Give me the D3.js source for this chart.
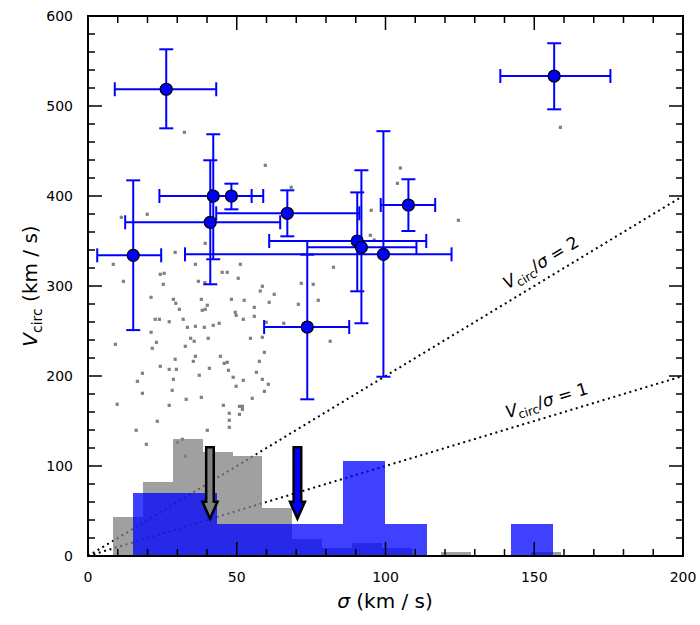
<!DOCTYPE html>
<html>
<head>
<meta charset="utf-8">
<script src="https://cdn.jsdelivr.net/npm/d3@7"></script>
<style>
  body { margin: 0; background: #fff; }
  text { font-family: "DejaVu Sans", sans-serif; }
</style>
</head>
<body>
<div id="chart"></div>
<script>
// background sample: sigma, V_circ (km/s)
const bgSigma = [11.9,25.3,37.1,39.3,58.6,57.9,62.6,21.2,28.7,29.5,38.1,40.1,48.2,52.5,60.9,70.7,30.7,39.4,38.4,49.5,
  49.8,55.9,55.9,22.6,24.0,27.3,32.0,52.2,44.1,42.1,33.4,36.1,39.1,59.9,65.8,21.2,34.5,35.7,40.4,54.6,
  58.6,9.2,23.0,21.6,32.7,59.3,36.1,29.3,35.4,44.5,45.8,46.8,57.6,24.3,27.3,29.7,40.8,47.2,56.6,18.3,
  37.4,48.8,58.6,16.6,28.7,52.2,60.6,49.8,28.3,59.3,18.3,33.0,38.1,55.2,9.8,27.3,45.5,50.9,51.9,51.9,
  47.5,50.9,47.5,23.3,47.5,16.2,40.1,19.6,30.0,31.7,32.7,32.4,59.6,68.3,11.2,19.9,39.4,29.3,8.5,36.1,
  45.1,46.8,51.2,24.3,25.6,50.5,71.7,75.7,105.0,104.0,95.2,124.5,94.9,96.2,82.5,77.4,81.4,158.8];
const bgVc = [305.2,301.9,305.2,303.7,299.7,294.4,290.8,287.4,285.2,280.8,285.2,278.6,285.2,284.1,281.9,279.7,274.1,274.1,273.0,270.8,
  267.4,276.3,266.3,263.0,263.0,260.3,263.0,263.0,258.6,256.3,254.1,255.2,254.1,259.7,258.6,248.6,241.9,238.6,241.9,241.9,
  243.0,235.2,237.4,230.8,233.0,226.3,221.9,218.6,216.3,221.9,214.1,215.2,216.3,210.8,207.4,207.4,208.6,206.3,204.1,203.0,
  200.8,198.6,196.3,194.1,196.3,195.2,190.8,188.6,184.1,183.0,180.8,174.1,176.3,175.2,168.6,167.4,167.4,166.3,166.3,163.0,
  158.6,157.4,150.8,149.7,143.0,139.7,139.7,124.1,126.3,129.7,110.8,470.8,434.1,409.7,376.3,379.7,347.4,337.4,324.1,324.1,
  315.2,315.2,324.1,313.0,314.1,308.6,303.0,301.9,431.1,414.1,384.1,373.0,356.3,351.1,320.8,284.1,238.6,476.3];

// sigma histograms (scaled heights)
const grayEdges = [8.4,18.5,28.5,38.5,48.6,58.6,68.6,78.7,88.7,98.7,108.8,118.8,128.8,138.9,148.9,158.9];
const grayHeights = [43.3,82,130,115.5,111.5,53,19,9,14.4,9,0,4.4,0,0,4.4];
const blueEdges = [15.1,29.2,43.4,57.5,71.6,85.7,99.8,114.0,128.1,142.2,156.3];
const blueHeights = [70,70,35.3,35.3,35.3,105.5,35.3,0,0,35.3];

// measured objects with errors
const sig   = [26.3,42.1,48.2,41.1,15.2,67.0,90.5,91.9,99.3,107.7,73.7,156.7];
const sigLo = [9.0,24.0,41.4,12.5,3.1,43.1,60.9,73.7,32.6,98.4,59.2,138.6];
const sigHi = [43.1,58.9,55.0,64.6,24.6,91.2,113.7,110.4,122.2,116.7,87.8,175.6];
const vc    = [518.6,400,400,370.8,334.1,380.8,350,343,335.2,390,254.4,533.3];
const vcLo  = [475.2,329.7,385.2,301.9,251,355.2,294.1,258.6,199.2,361.1,174.1,496.3];
const vcHi  = [563,468.6,413.7,439.7,417.4,406.3,404,428.6,472,418.6,334.8,569.7];

// upper-limit arrows
const arrowSigma = [41.0, 70.4];
const arrowFill = ['#808080', '#0000ff'];
const arrowTop = 120.8, arrowTip = 41.4;

// V_circ / sigma ratio lines
const ratios = [1, 2];

const xTicks = [0, 50, 100, 150, 200];
const yTicks = [0, 100, 200, 300, 400, 500, 600];

const W = 700, H = 625;
const x = d3.scaleLinear().domain([0, 200]).range([88, 683]);
const y = d3.scaleLinear().domain([0, 600]).range([556, 16]);

const svg = d3.select('#chart').append('svg')
  .attr('width', W).attr('height', H);

// ratio lines (under the histograms)
const g = svg.append('g');
g.selectAll('line.ratio')
  .data(ratios)
  .enter()
  .append('line')
  .attr('x1', x(0)).attr('y1', y(0))
  .attr('x2', x(200)).attr('y2', d => y(200 * d))
  .attr('stroke', '#000')
  .attr('stroke-width', 2)
  .attr('stroke-dasharray', '2,3.6');

// background points
g.selectAll('rect.pt')
  .data(bgSigma.map((s, i) => [s, bgVc[i]]))
  .enter()
  .append('rect')
  .attr('x', d => x(d[0]) - 1.6)
  .attr('y', d => y(d[1]) - 1.6)
  .attr('width', 3.2).attr('height', 3.2)
  .attr('fill', '#808080');

// gray histogram
g.selectAll('rect.gh')
  .data(grayHeights)
  .enter()
  .append('rect')
  .attr('x', (d, i) => x(grayEdges[i]))
  .attr('width', (d, i) => x(grayEdges[i + 1]) - x(grayEdges[i]))
  .attr('y', d => y(d))
  .attr('height', d => y(0) - y(d))
  .attr('fill', '#808080')
  .attr('fill-opacity', 0.75)
  .attr('shape-rendering', 'crispEdges');

// blue histogram
g.selectAll('rect.bh')
  .data(blueHeights)
  .enter()
  .append('rect')
  .attr('x', (d, i) => x(blueEdges[i]))
  .attr('width', (d, i) => x(blueEdges[i + 1]) - x(blueEdges[i]))
  .attr('y', d => y(d))
  .attr('height', d => y(0) - y(d))
  .attr('fill', '#0000ff')
  .attr('fill-opacity', 0.75)
  .attr('shape-rendering', 'crispEdges');

// arrows
const arrowPath = s => {
  const cx = x(s), t = y(arrowTop), tip = y(arrowTip);
  const hw = 3.8, hh = 7.5, hl = 17;
  return `M${cx - hw},${t} L${cx + hw},${t} L${cx + hw},${tip - hl} L${cx + hh},${tip - hl}
    L${cx},${tip} L${cx - hh},${tip - hl} L${cx - hw},${tip - hl} Z`;
};
g.selectAll('path.arrow')
  .data(arrowSigma)
  .enter()
  .append('path')
  .attr('d', d => arrowPath(d))
  .attr('fill', (d, i) => arrowFill[i])
  .attr('stroke', '#000')
  .attr('stroke-width', 2.5)
  .attr('stroke-linejoin', 'miter');

// error bars
const eb = g.append('g').attr('stroke', '#0000ff').attr('stroke-width', 2).attr('fill', 'none');
const cap = 7;
sig.forEach((s, i) => {
  eb.append('line').attr('x1', x(sigLo[i])).attr('x2', x(sigHi[i])).attr('y1', y(vc[i])).attr('y2', y(vc[i]));
  eb.append('line').attr('x1', x(s)).attr('x2', x(s)).attr('y1', y(vcLo[i])).attr('y2', y(vcHi[i]));
  [sigLo[i], sigHi[i]].forEach(v => eb.append('line')
    .attr('x1', x(v)).attr('x2', x(v)).attr('y1', y(vc[i]) - cap).attr('y2', y(vc[i]) + cap));
  [vcLo[i], vcHi[i]].forEach(v => eb.append('line')
    .attr('x1', x(s) - cap).attr('x2', x(s) + cap).attr('y1', y(v)).attr('y2', y(v)));
});
g.selectAll('circle.obj')
  .data(sig)
  .enter()
  .append('circle')
  .attr('cx', d => x(d))
  .attr('cy', (d, i) => y(vc[i]))
  .attr('r', 6)
  .attr('fill', '#0000ff')
  .attr('stroke', '#000')
  .attr('stroke-width', 1.2);

// ratio labels
const labelPos = [{ r: 1, s: 141, v: 153, a: -16.8 }, { r: 2, s: 141, v: 296, a: -31.2 }];
labelPos.forEach(p => {
  const t = svg.append('text')
    .attr('transform', `translate(${x(p.s)},${y(p.v)}) rotate(${p.a})`)
    .attr('font-size', 17);
  t.append('tspan').attr('font-style', 'italic').text('V');
  t.append('tspan').attr('font-size', 12).attr('dy', 4).text('circ');
  t.append('tspan').attr('dy', -4).text('/');
  t.append('tspan').attr('font-style', 'italic').text('σ');
  t.append('tspan').text(' = ' + p.r);
});

// axes frame and ticks
const frame = svg.append('g');
frame.append('rect')
  .attr('x', x(0)).attr('y', y(600))
  .attr('width', x(200) - x(0)).attr('height', y(0) - y(600))
  .attr('fill', 'none').attr('stroke', '#000').attr('stroke-width', 2);

const xMinor = d3.range(0, 201, 10);
const yMinor = d3.range(0, 601, 20);
const tk = frame.append('g').attr('stroke', '#000').attr('stroke-width', 1.5);
xMinor.forEach(v => {
  const len = v % 50 === 0 ? 14 : 7;
  tk.append('line').attr('x1', x(v)).attr('x2', x(v)).attr('y1', y(0)).attr('y2', y(0) - len);
  tk.append('line').attr('x1', x(v)).attr('x2', x(v)).attr('y1', y(600)).attr('y2', y(600) + len);
});
yMinor.forEach(v => {
  const len = v % 100 === 0 ? 14 : 7;
  tk.append('line').attr('x1', x(0)).attr('x2', x(0) + len).attr('y1', y(v)).attr('y2', y(v));
  tk.append('line').attr('x1', x(200)).attr('x2', x(200) - len).attr('y1', y(v)).attr('y2', y(v));
});

svg.append('g').selectAll('text')
  .data(xTicks)
  .enter()
  .append('text')
  .attr('x', d => x(d)).attr('y', 582)
  .attr('text-anchor', 'middle')
  .attr('font-size', 14)
  .text(d => d);

svg.append('g').selectAll('text')
  .data(yTicks)
  .enter()
  .append('text')
  .attr('x', 73).attr('y', d => y(d) + 5)
  .attr('text-anchor', 'end')
  .attr('font-size', 14)
  .text(d => d);

// axis titles
const xt = svg.append('text')
  .attr('x', 385).attr('y', 608)
  .attr('text-anchor', 'middle')
  .attr('font-size', 20);
xt.append('tspan').attr('font-style', 'italic').text('σ');
xt.append('tspan').text(' (km / s)');

const yt = svg.append('text')
  .attr('transform', 'translate(37,286) rotate(-90)')
  .attr('text-anchor', 'middle')
  .attr('font-size', 20);
yt.append('tspan').attr('font-style', 'italic').text('V');
yt.append('tspan').attr('font-size', 14).attr('dy', 5).text('circ');
yt.append('tspan').attr('dy', -5).text(' (km / s)');
</script>
</body>
</html>
